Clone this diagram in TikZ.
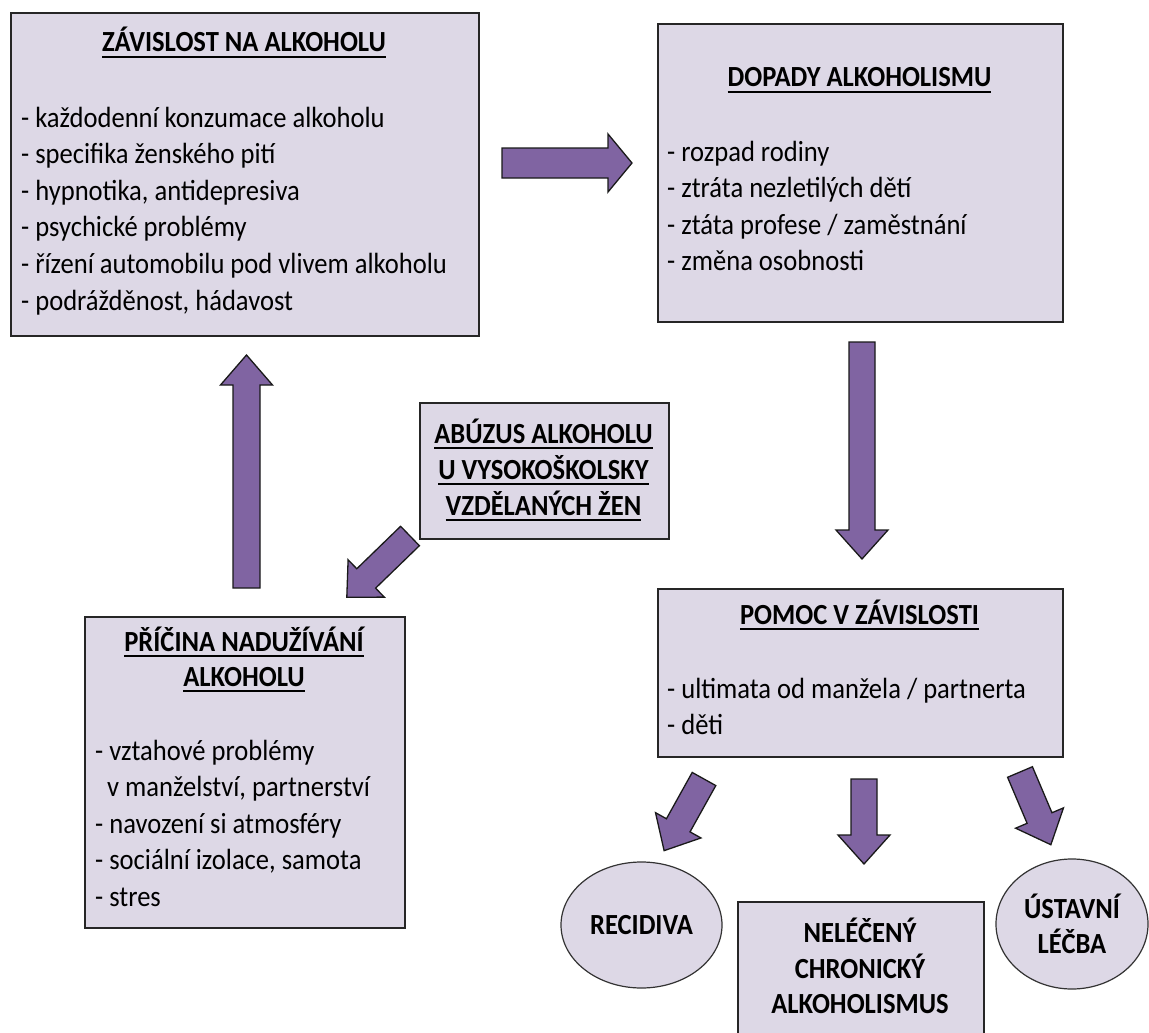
\documentclass[tikz,border=0pt]{standalone}
\usepackage{fontspec}
\setmainfont{Carlito}[FakeStretch=0.91]
\usetikzlibrary{shapes.geometric}
\definecolor{boxfill}{HTML}{DDD8E6}
\definecolor{arrfill}{HTML}{8064A2}
\newcommand\myul[1]{\setbox0\hbox{#1}\rlap{\rule[-6pt]{\wd0}{1.6pt}}\box0}
\tikzset{
  box/.style={draw=black!85, line width=1.6pt, fill=boxfill, rectangle, inner sep=0pt, anchor=north west},
  oval/.style={draw=black!80, line width=1.2pt, fill=boxfill, ellipse, inner sep=0pt,
    font=\fontsize{29.2}{35}\selectfont\bfseries, align=center},
  txt/.style={font=\fontsize{29.2}{36.6}\selectfont, inner sep=0pt, text=black},
  item/.style={txt, anchor=base west},
  head/.style={txt, font=\fontsize{29.2}{36.6}\selectfont\bfseries, anchor=base},
  blk/.style={draw=black!90, line width=1.3pt, fill=arrfill, line join=miter},
}
% name, start, angle, length, shaft half width, head half width, head length
\newcommand\blockarr[7]{%
  \coordinate (#1) at #2;
  \begin{scope}[shift={(#1)}, rotate=#3]
    \draw[blk] (0,-#5) -- ({#4-#7},-#5) -- ({#4-#7},-#6) -- (#4,0) -- ({#4-#7},#6) -- ({#4-#7},#5) -- (0,#5) -- cycle;
  \end{scope}}
\begin{document}
\begin{tikzpicture}[x=1pt,y=-1pt]
\clip (0,0) rectangle (1149,1033);
\fill[white] (0,0) rectangle (1149,1033);
% boxes
\node[box, minimum width=468pt, minimum height=323pt] (zav) at (10,12) {};
\node[box, minimum width=405pt, minimum height=298pt] (dop) at (657,23) {};
\node[box, minimum width=405pt, minimum height=168pt] (pom) at (657,588) {};
\node[box, minimum width=249pt, minimum height=136pt] (abu) at (419,402) {};
\node[box, minimum width=320pt, minimum height=311pt] (pri) at (84,616) {};
\node[box, minimum width=246pt, minimum height=160pt] (nel) at (737,901) {};
\node[oval, minimum width=161pt, minimum height=126pt] (rec) at (641.5,925) {RECIDIVA};
\node[oval, minimum width=152pt, minimum height=130pt] (ust) at (1072,924) {ÚSTAVNÍ\\LÉČBA};
% ZÁVISLOST
\node[head] (zavt) at (244,52) {\myul{ZÁVISLOST NA ALKOHOLU}};
\foreach \t [count=\i] in {{- každodenní konzumace alkoholu},{- specifika ženského pití},{- hypnotika, antidepresiva},{- psychické problémy},{- řízení automobilu pod vlivem alkoholu},{- podrážděnost, hádavost}}
  \node[item] (zav\i) at (21,{127+36.6*(\i-1)}) {\t};
% DOPADY
\node[head] (dopt) at (859.5,87) {\myul{DOPADY ALKOHOLISMU}};
\foreach \t [count=\i] in {{- rozpad rodiny},{- ztráta nezletilých dětí},{- ztáta profese / zaměstnání},{- změna osobnosti}}
  \node[item] (dop\i) at (667,{161+36.6*(\i-1)}) {\t};
% POMOC
\node[head] (pomt) at (859.5,624) {\myul{POMOC V ZÁVISLOSTI}};
\foreach \t [count=\i] in {{- ultimata od manžela / partnerta},{- děti}}
  \node[item] (pom\i) at (667,{698+36.6*(\i-1)}) {\t};
% ABÚZUS
\node[head] (abu1) at (543.5,443) {\myul{ABÚZUS ALKOHOLU}};
\node[head] (abu2) at (543.5,479) {\myul{U VYSOKOŠKOLSKY}};
\node[head] (abu3) at (543.5,515) {\myul{VZDĚLANÝCH ŽEN}};
% PŘÍČINA
\node[head] (prit1) at (244,651) {\myul{PŘÍČINA NADUŽÍVÁNÍ}};
\node[head] (prit2) at (244,686) {\myul{ALKOHOLU}};
\node[item] (pri1) at (95,760) {- vztahové problémy};
\node[item] (pri2) at (107,796.6) {v manželství, partnerství};
\node[item] (pri3) at (95,833.2) {- navození si atmosféry};
\node[item] (pri4) at (95,869.8) {- sociální izolace, samota};
\node[item] (pri5) at (95,906.4) {- stres};
% NELÉČENÝ
\node[head] (nel1) at (860,942) {NELÉČENÝ};
\node[head] (nel2) at (860,978) {CHRONICKÝ};
\node[head] (nel3) at (860,1013) {ALKOHOLISMUS};
% block arrows
\blockarr{a1}{(502,163)}{0}{130}{15}{29}{24}
\blockarr{a2}{(862,342)}{-90}{217}{13}{26}{29}
\blockarr{a3}{(246.5,588)}{90}{233}{13.5}{26}{30}
\blockarr{a4}{(410,536)}{-135.9}{88}{13.5}{26}{27}
\blockarr{a5}{(704,779)}{-119.1}{82}{13.5}{26}{29}
\blockarr{a6}{(864,779)}{-90}{85}{13}{26}{29}
\blockarr{a7}{(1020,772)}{-67}{79}{13.5}{26}{29}
\end{tikzpicture}
\end{document}
